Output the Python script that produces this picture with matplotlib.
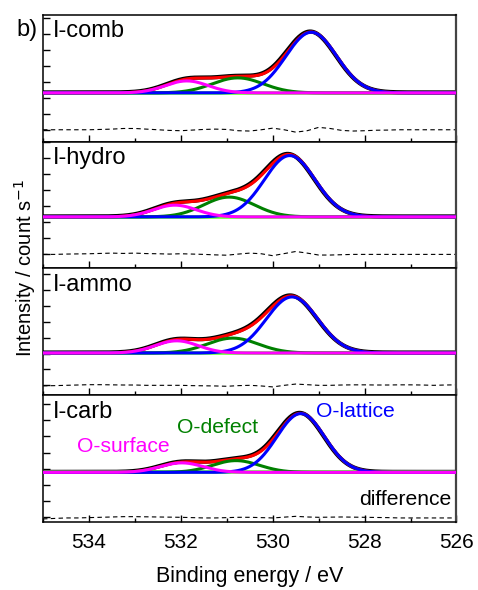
import numpy as np
import matplotlib.pyplot as plt
from matplotlib.ticker import MultipleLocator

plt.rcParams['font.family'] = ['Liberation Sans', 'DejaVu Sans']

# ------------------------------------------------------------------------------
# Data (O 1s fits, arbitrary intensity units)
# ------------------------------------------------------------------------------
samples = ["I-comb", "I-hydro", "I-ammo", "I-carb"]

# background level of each fit and level of the difference trace
baseline = [2.31, 2.33, 2.04, 2.77]
diff_level = [0.0, 0.0, 0.0, -0.06]

# fit components: centre (eV), height, fwhm (eV)
lattice_pos = [529.16, 529.63, 529.58, 529.39]
lattice_amp = [3.80, 3.81, 3.54, 3.65]
lattice_fwhm = [1.30, 1.30, 1.32, 1.22]

defect_pos = [530.76, 530.95, 530.87, 530.80]
defect_amp = [0.94, 1.23, 0.94, 0.73]
defect_fwhm = [1.30, 1.30, 1.30, 1.20]

surface_pos = [531.87, 532.13, 532.09, 531.98]
surface_amp = [0.75, 0.73, 0.77, 0.59]
surface_fwhm = [1.10, 1.10, 1.10, 1.10]

# residual (data - fit), sampled every 0.25 eV from 535 to 526 eV
resid_energy = np.arange(535.0, 525.99, -0.25)
residuals = [
    [0, 0, 0, 0, 0, 0.02, 0.04, 0.08, 0.08, 0.04, 0.0, -0.04, -0.06, -0.02,
     0.02, 0.04, 0.02, -0.06, -0.08, 0.0, 0.10, 0.0, -0.15, -0.06, 0.15, 0.08,
     -0.04, -0.08, -0.06, -0.03, -0.02, 0, 0, 0, 0, 0, 0],
    [0, 0, 0.02, 0.03, 0.04, 0.06, 0.08, 0.06, 0.08, 0.05, 0.04, 0.02, 0.04,
     0.02, 0.0, -0.03, -0.05, 0.02, 0.08, 0.04, -0.08, 0.05, 0.18, 0.08, -0.04,
     -0.04, -0.02, 0, 0, 0, 0, 0, 0, 0, 0, 0, 0],
    [-0.03, -0.02, 0.0, 0.02, 0.04, 0.04, 0.03, 0.02, 0.02, 0.0, 0.0, 0.0, 0.0,
     -0.02, -0.03, -0.04, -0.06, -0.02, 0.0, -0.04, -0.10, 0.0, 0.08, 0.04, 0.0,
     0.0, 0.02, 0.03, 0.03, 0.02, 0.02, 0.03, 0.03, 0.02, 0.0, 0.02, 0.03],
    [-0.06, -0.03, 0.0, 0.0, 0.02, 0.04, 0.06, 0.08, 0.08, 0.07, 0.06, 0.05,
     0.04, 0.02, 0.0, 0.0, 0.02, 0.04, 0.04, 0.02, 0.0, 0.05, 0.10, 0.06, 0.04,
     0.05, 0.06, 0.05, 0.04, 0.03, 0.02, 0, 0, 0, 0, 0, 0],
]

# per-panel y limits (ticks sit at integer counts)
ylims = [(-0.75, 7.19), (-0.875, 7.0), (-0.625, 7.375), (-0.31, 7.56)]


def gauss(x, pos, amp, fwhm):
    sig = fwhm / 2.3548
    return amp * np.exp(-0.5 * ((x - pos) / sig) ** 2)


# ------------------------------------------------------------------------------
# Plot
# ------------------------------------------------------------------------------
fig, axes = plt.subplots(4, 1, figsize=(4.78, 5.90), dpi=100, sharex=True)
fig.subplots_adjust(left=0.09, right=0.955, top=0.9746, bottom=0.1153, hspace=0)

x = np.linspace(535, 526, 500)
for i, ax in enumerate(axes):
    lat = gauss(x, lattice_pos[i], lattice_amp[i], lattice_fwhm[i])
    dfc = gauss(x, defect_pos[i], defect_amp[i], defect_fwhm[i])
    srf = gauss(x, surface_pos[i], surface_amp[i], surface_fwhm[i])
    b = baseline[i]
    env = b + lat + dfc + srf
    res = np.array(residuals[i])

    # measured trace sits under the envelope, peeking out slightly
    ax.plot(x + 0.02, env + 0.03, color='black', lw=3.0, zorder=1)
    ax.plot(x, np.full_like(x, b), color='#66ff33', lw=2.6, zorder=2)
    ax.plot(x, env, color='red', lw=2.2, zorder=3)
    ax.plot(x, b + dfc, color='green', lw=2.2, zorder=4)
    ax.plot(x, b + lat, color='blue', lw=2.2, zorder=5)
    ax.plot(x, b + srf, color='magenta', lw=2.2, zorder=6)
    ax.plot(resid_energy, diff_level[i] + res, color='black', lw=0.8,
            linestyle=(0, (4, 3)), zorder=2)

    ax.set_ylim(*ylims[i])
    ax.set_xlim(535, 526)
    ax.yaxis.set_major_locator(MultipleLocator(1))
    ax.xaxis.set_major_locator(MultipleLocator(2))
    ax.xaxis.set_minor_locator(MultipleLocator(1))
    ax.set_yticklabels([])
    ax.tick_params(axis='both', which='major', direction='in', length=5,
                   width=1.0, labelsize=15, top=False, right=False)
    ax.tick_params(axis='x', which='minor', direction='in', length=3,
                   width=1.0, top=False)
    for sp in ax.spines.values():
        sp.set_linewidth(1.1)
    ax.spines['right'].set_color('#444444')
    ax.spines['right'].set_linewidth(1.6)

    ax.text(0.024, 0.87, samples[i], transform=ax.transAxes, fontsize=17,
            ha='left', va='center')

axes[-1].set_xlabel("Binding energy / eV", fontsize=15.5, labelpad=10)
axes[-1].tick_params(axis='x', pad=8)
fig.text(0.052, 0.546, "Intensity / count s$^{-1}$", rotation=90, fontsize=14.5,
         ha='center', va='center')
fig.text(0.035, 0.949, "b)", fontsize=17, ha='left', va='center')

ax4 = axes[-1]
ax4.text(0.082, 0.595, "O-surface", color='magenta', fontsize=15.2,
         transform=ax4.transAxes, ha='left', va='center')
ax4.text(0.324, 0.746, "O-defect", color='green', fontsize=15.2,
         transform=ax4.transAxes, ha='left', va='center')
ax4.text(0.660, 0.873, "O-lattice", color='blue', fontsize=15.2,
         transform=ax4.transAxes, ha='left', va='center')
ax4.text(0.987, 0.175, "difference", color='black', fontsize=15.2,
         transform=ax4.transAxes, ha='right', va='center')

fig.savefig("out.png", dpi=100)
